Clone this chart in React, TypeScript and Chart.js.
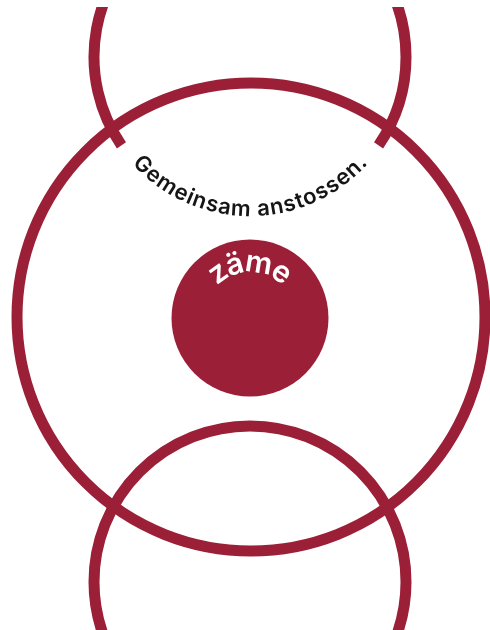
import { useEffect, useRef } from "react";
import { Chart, registerables } from "chart.js";

Chart.register(...registerables);

// ---- data (in the picture's own coordinate units) ----
const ringNames = ["upper", "outer", "lower"];
const ringCenterX = [250, 251, 250];
const ringCenterY = [57, 317, 582];
const ringRadius = [156, 234, 156];
const ringStartDeg = [145.5, 0, 0];
const ringEndDeg = [394.5, 360, 360];

const discCenterX = [250];
const discCenterY = [318];
const discRadius = [78.5];

const arcLabels = ["Gemeinsam anstossen.", "zäme"];
const labelCenterX = [250, 250];
const labelCenterY = [57, 318];
const labelRadius = [159, 46];
const labelSide = ["below", "above"];

const xRange = [0, 490];
const yRange = [7, 630];

const CRIMSON = "#9b2037";
const INK = "#151515";

function drawArcText(
  ctx: CanvasRenderingContext2D,
  text: string,
  cx: number,
  cy: number,
  r: number,
  side: string,
  font: string,
  color: string,
  spacing: number
) {
  ctx.save();
  ctx.font = font;
  ctx.fillStyle = color;
  ctx.textAlign = "center";
  ctx.textBaseline = "alphabetic";
  const chars = Array.from(text);
  const widths = chars.map((ch) => ctx.measureText(ch).width);
  const total = widths.reduce((a, b) => a + b, 0) + spacing * (chars.length - 1);
  let off = 0;
  chars.forEach((ch, i) => {
    const mid = off + widths[i] / 2;
    let phi: number;
    let rot: number;
    if (side === "below") {
      phi = Math.PI / 2 + total / (2 * r) - mid / r;
      rot = phi - Math.PI / 2;
    } else {
      phi = -Math.PI / 2 - total / (2 * r) + mid / r;
      rot = phi + Math.PI / 2;
    }
    ctx.save();
    ctx.translate(cx + r * Math.cos(phi), cy + r * Math.sin(phi));
    ctx.rotate(rot);
    ctx.fillText(ch, 0, 0);
    ctx.restore();
    off += widths[i] + spacing;
  });
  ctx.restore();
}

const logoPlugin = {
  id: "zaemeLogo",
  afterDatasetsDraw(chart: any) {
    const ctx: CanvasRenderingContext2D = chart.ctx;
    const xs = chart.scales.x;
    const ys = chart.scales.y;
    const px = (v: number) => xs.getPixelForValue(v);
    const py = (v: number) => ys.getPixelForValue(v);
    const pr = (cx: number, r: number) =>
      Math.abs(xs.getPixelForValue(cx + r) - xs.getPixelForValue(cx));

    ctx.save();
    ctx.strokeStyle = CRIMSON;
    ctx.lineWidth = 11;
    ctx.lineCap = "butt";
    ringNames.forEach((_, i) => {
      ctx.beginPath();
      ctx.arc(
        px(ringCenterX[i]),
        py(ringCenterY[i]),
        pr(ringCenterX[i], ringRadius[i]),
        (ringStartDeg[i] * Math.PI) / 180,
        (ringEndDeg[i] * Math.PI) / 180
      );
      ctx.stroke();
    });

    ctx.fillStyle = CRIMSON;
    discCenterX.forEach((_, i) => {
      ctx.beginPath();
      ctx.arc(px(discCenterX[i]), py(discCenterY[i]), pr(discCenterX[i], discRadius[i]), 0, Math.PI * 2);
      ctx.fill();
    });
    ctx.restore();

    drawArcText(
      ctx,
      arcLabels[0],
      px(labelCenterX[0]),
      py(labelCenterY[0]),
      pr(labelCenterX[0], labelRadius[0]),
      labelSide[0],
      "600 22px Inter, 'Noto Sans', sans-serif",
      INK,
      0.9
    );
    drawArcText(
      ctx,
      arcLabels[1],
      px(labelCenterX[1]),
      py(labelCenterY[1]),
      pr(labelCenterX[1], labelRadius[1]),
      labelSide[1],
      "600 30px Inter, 'Noto Sans', sans-serif",
      "#ffffff",
      -1.8
    );
  },
};

export default function App() {
  const canvasRef = useRef<HTMLCanvasElement | null>(null);

  useEffect(() => {
    if (!canvasRef.current) return;
    const chart = new Chart(canvasRef.current, {
      type: "scatter",
      data: {
        datasets: [
          {
            label: "rings",
            data: ringNames.map((_, i) => ({ x: ringCenterX[i], y: ringCenterY[i] })),
            pointRadius: 0,
            pointHoverRadius: 0,
          },
          {
            label: "disc",
            data: discCenterX.map((_, i) => ({ x: discCenterX[i], y: discCenterY[i] })),
            pointRadius: 0,
            pointHoverRadius: 0,
          },
        ],
      },
      options: {
        animation: false,
        responsive: true,
        maintainAspectRatio: false,
        layout: { padding: 0 },
        events: [],
        plugins: {
          legend: { display: false },
          tooltip: { enabled: false },
        },
        scales: {
          x: { type: "linear", display: false, min: xRange[0], max: xRange[1] },
          y: { type: "linear", display: false, min: yRange[0], max: yRange[1], reverse: true },
        },
      },
      plugins: [logoPlugin],
    });
    return () => chart.destroy();
  }, []);

  return (
    <div
      style={{
        position: "absolute",
        left: 0,
        top: 7,
        width: 490,
        height: 623,
        background: "#ffffff",
      }}
    >
      <canvas ref={canvasRef} />
    </div>
  );
}
